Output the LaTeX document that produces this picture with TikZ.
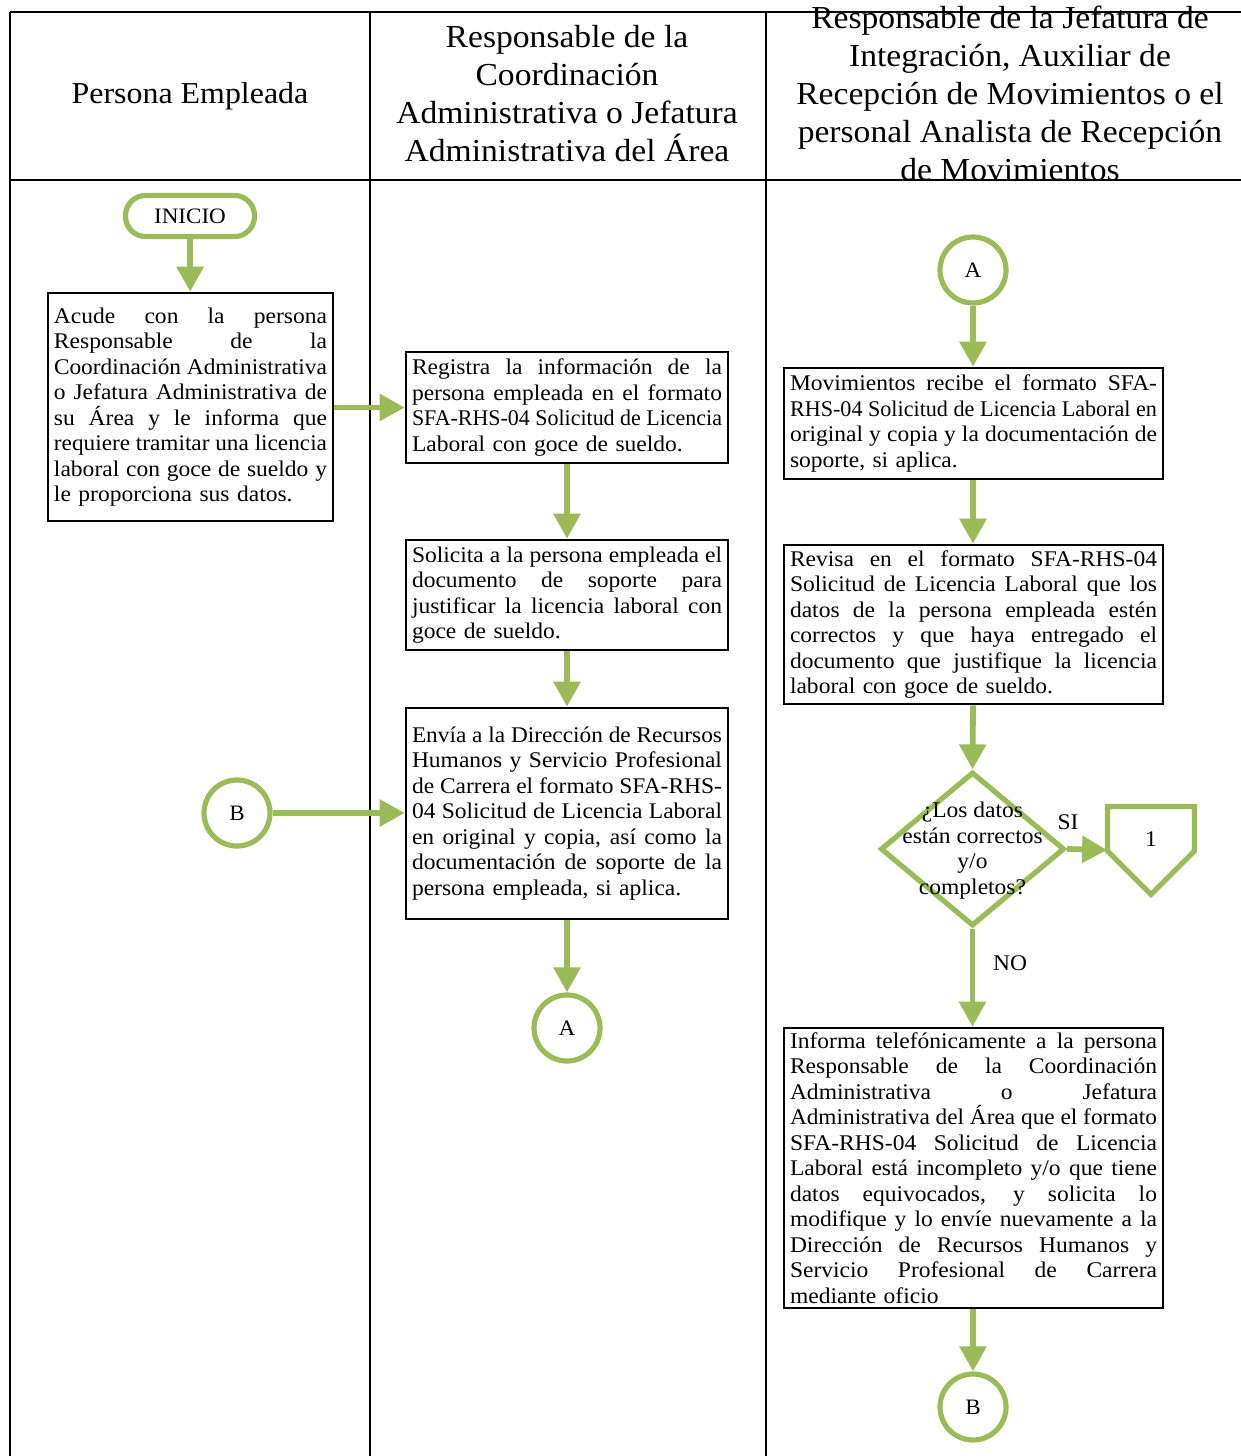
\documentclass[tikz,border=0pt]{standalone}
\usepackage{fontspec}
\setmainfont{Liberation Serif}[FakeStretch=1.05]
\usepackage{graphicx}
\usetikzlibrary{arrows.meta,shapes.geometric}
\definecolor{fgreen}{HTML}{9BBB59}

% one fully justified line; squeezed horizontally if it is too long
\newsavebox\jlbox
\newcommand\jl[1]{\sbox\jlbox{\spaceskip=0pt\xspaceskip=0pt #1}%
  \ifdim\wd\jlbox>\hsize\resizebox{\hsize}{\height}{\usebox\jlbox}%
  \else\makebox[\hsize][s]{\spaceskip=0pt\xspaceskip=0pt #1}\fi\\}

\tikzset{
  lane/.style={line width=1.2pt},
  headtext/.style={align=center, font=\fontsize{16}{19}\selectfont, inner sep=0pt},
  procbox/.style={draw, rectangle, line width=1.3pt, inner xsep=3pt, inner ysep=0pt,
    align=left, font=\fontsize{11.2}{12.75}\selectfont},
  flow/.style={draw=fgreen, line width=2.9pt, -{Triangle[width=13pt,length=12.5pt]}},
  connector/.style={circle, draw=fgreen, line width=2.6pt, minimum size=33pt, inner sep=0pt,
    font=\fontsize{11}{12.75}\selectfont},
  terminal/.style={rectangle, draw=fgreen, line width=2.6pt, rounded corners=10pt,
    minimum width=64.5pt, minimum height=20.5pt, inner sep=0pt, font=\fontsize{11}{12.75}\selectfont},
  decision/.style={diamond, draw=fgreen, line width=2.6pt, minimum width=92pt, minimum height=77pt, inner sep=0pt},
  lbl/.style={font=\fontsize{11.2}{12.75}\selectfont, inner sep=0pt},
}

\begin{document}
\begin{tikzpicture}[x=0.5pt, y=-0.5pt]
\useasboundingbox (0,0) rectangle (1241,1456);
\fill[white] (0,0) rectangle (1241,1456);

% swimlane headers
\node[headtext, font=\fontsize{15.2}{19}\selectfont] (h1) at (190,96) {Persona Empleada};
\node[headtext] (h2) at (567,94) {Responsable de la\\Coordinación\\Administrativa o Jefatura\\Administrativa del Área};
\node[headtext] (h3) at (1010,93) {Responsable de la Jefatura de\\Integración, Auxiliar de\\Recepción de Movimientos o el\\personal Analista de Recepción\\de Movimientos};

% swimlane grid
\draw[lane] (10,12) -- (1241,12);
\draw[lane] (10,180) -- (1241,180);
\draw[lane] (10,12) -- (10,1456);
\draw[lane] (370,12) -- (370,1456);
\draw[lane] (766,12) -- (766,1456);

% lane 1
\node[terminal] (inicio) at (190,216) {INICIO};
\node[procbox, text width=136.5pt, minimum height=114pt] (acude) at (190.5,407) {%
\jl{Acude con la persona}
\jl{Responsable de la}
\jl{Coordinación Administrativa}
\jl{o Jefatura Administrativa de}
\jl{su Área y le informa que}
\jl{requiere tramitar una licencia}
\jl{laboral con goce de sueldo y}
le proporciona sus datos.};
\node[connector] (b1) at (237,813) {B};

% lane 2
\node[procbox, text width=155pt, minimum height=55.5pt] (registra) at (567,407.5) {%
\jl{Registra la información de la}
\jl{persona empleada en el formato}
\jl{SFA-RHS-04 Solicitud de Licencia}
Laboral con goce de sueldo.};
\node[procbox, text width=155pt, minimum height=55pt] (solicita) at (567,595) {%
\jl{Solicita a la persona empleada el}
\jl{documento de soporte para}
\jl{justificar la licencia laboral con}
goce de sueldo.};
\node[procbox, text width=155pt, minimum height=105.5pt] (envia) at (567,813.5) {%
\jl{Envía a la Dirección de Recursos}
\jl{Humanos y Servicio Profesional}
\jl{de Carrera el formato SFA-RHS-}
\jl{04 Solicitud de Licencia Laboral}
\jl{en original y copia, así como la}
\jl{documentación de soporte de la}
persona empleada, si aplica.};
\node[connector] (a1) at (567,1028) {A};

% lane 3
\node[connector] (a2) at (973,270) {A};
\node[procbox, text width=183.5pt, minimum height=55.5pt] (recibe) at (973.5,423.5) {%
\jl{Movimientos recibe el formato SFA-}
\jl{RHS-04 Solicitud de Licencia Laboral en}
\jl{original y copia y la documentación de}
soporte, si aplica.};
\node[procbox, text width=183.5pt, minimum height=79.5pt] (revisa) at (973.5,624.5) {%
\jl{Revisa en el formato SFA-RHS-04}
\jl{Solicitud de Licencia Laboral que los}
\jl{datos de la persona empleada estén}
\jl{correctos y que haya entregado el}
\jl{documento que justifique la licencia}
laboral con goce de sueldo.};
\node[decision] (dec) at (972.5,849) {};
\node[lbl, align=center] (dectext) at (972.5,850.5) {¿Los datos\\están correctos\\y/o\\completos?};
\node[lbl] (si) at (1068,822) {SI};
\node[lbl] (no) at (1010,963) {NO};

% off-page connector
\draw[draw=fgreen, line width=2.6pt, line join=miter]
  (1107.5,806.5) -- (1194.5,806.5) -- (1194.5,851) -- (1151,894.5) -- (1107.5,851) -- cycle;
\node[lbl, minimum width=43.5pt, minimum height=20pt] (off) at (1151,850) {};
\node[lbl] (offnum) at (1151,839) {1};

\node[procbox, text width=183.5pt, minimum height=140pt] (informa) at (973.5,1168) {%
\jl{Informa telefónicamente a la persona}
\jl{Responsable de la Coordinación}
\jl{Administrativa o Jefatura}
\jl{Administrativa del Área que el formato}
\jl{SFA-RHS-04 Solicitud de Licencia}
\jl{Laboral está incompleto y/o que tiene}
\jl{datos equivocados, y solicita lo}
\jl{modifique y lo envíe nuevamente a la}
\jl{Dirección de Recursos Humanos y}
\jl{Servicio Profesional de Carrera}
mediante oficio};
\node[connector] (b2) at (973,1407) {B};

% flow connectors
\draw[flow] (inicio) -- (acude);
\draw[flow] (acude.east |- registra) -- (registra.west);
\draw[flow] (b1) -- (envia.west |- b1);
\draw[flow] (registra) -- (solicita);
\draw[flow] (solicita) -- (envia);
\draw[flow] (envia) -- (a1);
\draw[flow] (a2) -- (recibe.north -| a2);
\draw[flow] (recibe.south -| a2) -- (revisa.north -| a2);
\draw[flow] (revisa.south -| a2) -- (dec.north);
\draw[flow] (dec.east) -- (off.west);
\draw[flow] (dec.south) -- (informa.north -| dec.south);
\draw[flow] (informa.south -| b2) -- (b2);
\end{tikzpicture}
\end{document}
